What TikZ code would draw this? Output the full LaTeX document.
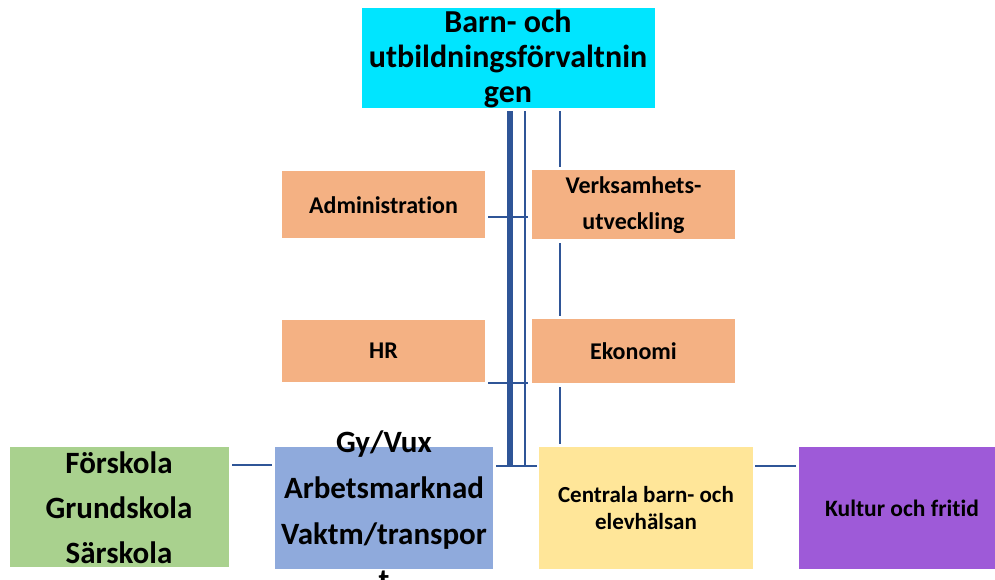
\documentclass[tikz,border=0pt]{standalone}
\usepackage{fontspec}
\setmainfont{Carlito}[Ligatures=NoCommon]
\definecolor{cyanbox}{HTML}{00E5FF}
\definecolor{orangebox}{HTML}{F4B183}
\definecolor{greenbox}{HTML}{A9D18E}
\definecolor{bluebox}{HTML}{8FAADC}
\definecolor{yellowbox}{HTML}{FFE699}
\definecolor{purplebox}{HTML}{9E5AD8}
\definecolor{linecol}{HTML}{2F5597}
\begin{document}
\begin{tikzpicture}[x=1pt,y=-1pt,
  box/.style={draw=none,inner sep=0pt,outer sep=0pt},
  lbl/.style={align=center,inner sep=0pt,font=\bfseries},
  conn/.style={draw=linecol,line width=2.2pt},
  thickconn/.style={draw=linecol,line width=5.5pt},
  thinconn/.style={draw=linecol,line width=2pt}]
\clip (0,0) rectangle (995,579);
\fill[white] (0,0) rectangle (995,579);
% boxes
\node[box,fill=cyanbox,minimum width=293pt,minimum height=100pt] (top) at (508.5,58) {};
\node[box,fill=orangebox,minimum width=203pt,minimum height=67pt] (adm) at (383.5,204.5) {};
\node[box,fill=orangebox,minimum width=203pt,minimum height=69pt] (verk) at (633.5,204.5) {};
\node[box,fill=orangebox,minimum width=203pt,minimum height=62pt] (hr) at (383.5,351) {};
\node[box,fill=orangebox,minimum width=203pt,minimum height=64pt] (eko) at (633.5,351) {};
\node[box,fill=greenbox,minimum width=219pt,minimum height=120pt] (fsk) at (119.5,507) {};
\node[box,fill=bluebox,minimum width=218pt,minimum height=122pt] (gy) at (384,508) {};
\node[box,fill=yellowbox,minimum width=214pt,minimum height=122pt] (cen) at (646,508) {};
\node[box,fill=purplebox,minimum width=196pt,minimum height=122pt] (kul) at (897,508) {};
% texts
\node[lbl,font=\bfseries\fontsize{32}{35}\selectfont] (toptxt) at (508,59) {Barn- och\\utbildningsförvaltnin\\gen};
\node[lbl,font=\bfseries\fontsize{24}{36}\selectfont] (admtxt) at (383.5,205) {Administration};
\node[lbl,font=\bfseries\fontsize{24}{36}\selectfont] (verktxt) at (633.5,205) {Verksamhets-\\utveckling};
\node[lbl,font=\bfseries\fontsize{24}{36}\selectfont] (hrtxt) at (383.5,351) {HR};
\node[lbl,font=\bfseries\fontsize{24}{36}\selectfont] (ekotxt) at (633.5,351) {Ekonomi};
\node[lbl,font=\bfseries\fontsize{31}{45}\selectfont] (fsktxt) at (119,508) {Förskola\\Grundskola\\Särskola};
\node[lbl,font=\bfseries\fontsize{31}{46}\selectfont] (gytxt) at (384,511) {Gy/Vux\\Arbetsmarknad\\Vaktm/transpor\\t};
\node[lbl,font=\bfseries\fontsize{23}{27}\selectfont] (centxt) at (646,508) {Centrala barn- och\\elevhälsan};
\node[lbl,font=\bfseries\fontsize{23.5}{27}\selectfont] (kultxt) at (902,508) {Kultur och fritid};
% connector coordinates
\coordinate (t1) at ([yshift=-3pt]top.south -| 510,0);
\coordinate (t2) at ([yshift=-3pt]top.south -| 525,0);
\coordinate (t3) at ([yshift=-3pt]top.south -| 560,0);
\coordinate (bottomjoin) at (510,466);
% connectors
\draw[thickconn] (t1) -- (t1 |- bottomjoin);
\draw[thinconn] (t2) -- (t2 |- bottomjoin);
\draw[thinconn] (t3) -- ([yshift=3pt]verk.north -| t3);
\draw[thinconn] ([yshift=-4pt]verk.south -| t3) -- ([yshift=3pt]eko.north -| t3);
\draw[thinconn] ([yshift=-4pt]eko.south -| t3) -- ([yshift=3pt]cen.north -| t3);
\draw[conn] ([xshift=3pt]adm.east |- 0,217) -- (528,217);
\draw[conn] ([xshift=3pt]hr.east |- 0,383) -- (528,383);
\draw[conn] ([xshift=3pt]gy.east |- 0,466) -- ([xshift=-2pt]cen.west |- 0,466);
\draw[conn] ([xshift=3pt]fsk.east |- 0,465) -- ([xshift=-3pt]gy.west |- 0,465);
\draw[conn] ([xshift=2pt]cen.east |- 0,466) -- ([xshift=-3pt]kul.west |- 0,466);
\end{tikzpicture}
\end{document}
